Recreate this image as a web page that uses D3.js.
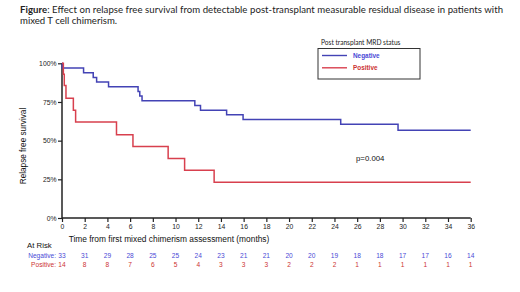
<!DOCTYPE html>
<html><head><meta charset="utf-8">
<script src="https://cdn.jsdelivr.net/npm/d3@7"></script>
<style>html,body{margin:0;padding:0;background:#fff;}svg{display:block;}</style>
</head><body>
<script>
const negTimes = [0, 0.02, 1.9, 2.75, 3.05, 4.1, 6.7, 6.85, 7.05, 11.7, 12.2, 14.5, 15.95, 24.55, 29.6, 36];
const negSurv  = [100, 97.0, 93.9, 90.9, 87.9, 84.8, 81.8, 78.8, 75.8, 72.7, 69.7, 66.7, 63.6, 60.6, 56.8, 56.8];
const posTimes = [0, 0.12, 0.2, 0.35, 1.0, 1.2, 4.8, 6.25, 9.35, 10.8, 13.4, 36];
const posSurv  = [100, 92.9, 85.7, 77.4, 69.7, 62.0, 53.8, 46.2, 38.5, 30.8, 23.1, 23.1];
const xTicks = d3.range(0, 37, 2);
const yTicks = [0, 25, 50, 75, 100];
const atRiskNeg = [33,31,29,28,25,25,24,23,21,21,20,20,19,18,18,17,17,16,14];
const atRiskPos = [14,8,8,7,6,5,4,3,3,3,2,2,2,1,1,1,1,1,1];
const seriesNames = ["Negative", "Positive"];
const colors = {Negative: "#4343b5", Positive: "#d8404e"};
const textColors = {Negative: "#4a4ad6", Positive: "#cc3333"};

const W = 520, H = 292;
const svg = d3.select("body").append("svg").attr("width", W).attr("height", H);
const font = "'Liberation Sans', Arial, sans-serif";
const capFont = "Lato, 'Open Sans', sans-serif";

// Caption
const cap = svg.append("text").attr("x", 20).attr("y", 12.5)
  .attr("font-family", capFont).attr("font-size", 9.6).attr("fill", "#222")
  .attr("textLength", 483).attr("lengthAdjust", "spacing");
cap.append("tspan").attr("font-weight", "bold").text("Figure");
cap.append("tspan").text(": Effect on relapse free survival from detectable post-transplant measurable residual disease in patients with");
svg.append("text").attr("x", 20).attr("y", 23.5)
  .attr("font-family", capFont).attr("font-size", 9.6).attr("fill", "#222")
  .text("mixed T cell chimerism.");

const x = d3.scaleLinear().domain([0, 36]).range([62, 470.7]);
const y = d3.scaleLinear().domain([0, 100]).range([218, 63.3]);

// Axes
const gx = svg.append("g").attr("transform", `translate(0,${y(0)})`)
  .call(d3.axisBottom(x).tickValues(xTicks).tickSize(4).tickPadding(2));
const gy = svg.append("g").attr("transform", `translate(${x(0)},0)`)
  .call(d3.axisLeft(y).tickValues(yTicks).tickFormat(d => d + "%").tickSize(4).tickPadding(1.5));
[gx, gy].forEach(g => {
  g.select(".domain").attr("stroke", "#222").attr("stroke-width", 1.5);
  g.selectAll(".tick line").attr("stroke", "#222").attr("stroke-width", 1.2);
  g.selectAll("text").attr("font-family", font).attr("font-size", 6.8).attr("fill", "#222");
});
gx.select(".domain").attr("d", `M${x(0)},0H${x(36)}`);
gy.select(".domain").attr("d", `M0,${y(0)}V${y(100)}`);

// Axis titles
svg.append("text").attr("x", 169).attr("y", 241.5).attr("text-anchor", "middle")
  .attr("font-family", font).attr("font-size", 8.4).attr("fill", "#111")
  .text("Time from first mixed chimerism assessment (months)");
svg.append("text").attr("transform", "translate(26,146) rotate(-90)").attr("text-anchor", "middle")
  .attr("font-family", font).attr("font-size", 8.2).attr("fill", "#111")
  .text("Relapse free survival");

// Curves
const line = d3.line().x(d => x(d[0])).y(d => y(d[1])).curve(d3.curveStepAfter);
const curves = {Negative: d3.zip(negTimes, negSurv), Positive: d3.zip(posTimes, posSurv)};
seriesNames.forEach(s => {
  svg.append("path").datum(curves[s]).attr("d", line)
    .attr("fill", "none").attr("stroke", colors[s]).attr("stroke-width", 1.5);
});

// p-value
svg.append("text").attr("x", 356).attr("y", 161).attr("font-family", font)
  .attr("font-size", 7.8).attr("fill", "#111").text("p=0.004");

// Legend
svg.append("text").attr("x", 321).attr("y", 45).attr("font-family", capFont)
  .attr("font-size", 6.6).attr("fill", "#222").text("Post transplant MRD status");
svg.append("rect").attr("x", 318).attr("y", 48.5).attr("width", 102).attr("height", 30.5)
  .attr("fill", "none").attr("stroke", "#333").attr("stroke-width", 1);
seriesNames.forEach((s, i) => {
  const ly = 55.5 + i * 12.3;
  svg.append("line").attr("x1", 322).attr("x2", 347).attr("y1", ly).attr("y2", ly)
    .attr("stroke", colors[s]).attr("stroke-width", 1.4);
  svg.append("text").attr("x", 353).attr("y", ly + 2.4).attr("font-family", font)
    .attr("font-size", 6.4).attr("font-weight", "bold").attr("fill", textColors[s]).text(s);
});

// At risk table
svg.append("text").attr("x", 27).attr("y", 248).attr("font-family", font)
  .attr("font-size", 7.8).attr("fill", "#111").text("At Risk");
const rows = {Negative: atRiskNeg, Positive: atRiskPos};
seriesNames.forEach((s, i) => {
  const ry = 257.5 + i * 9;
  svg.append("text").attr("x", 56).attr("y", ry).attr("text-anchor", "end")
    .attr("font-family", font).attr("font-size", 6.6).attr("fill", textColors[s]).text(s + ":");
  svg.selectAll(null).data(rows[s]).enter().append("text")
    .attr("x", (d, j) => x(xTicks[j])).attr("y", ry).attr("text-anchor", "middle")
    .attr("font-family", font).attr("font-size", 6.6).attr("fill", textColors[s]).text(d => d);
});
</script>
</body></html>
